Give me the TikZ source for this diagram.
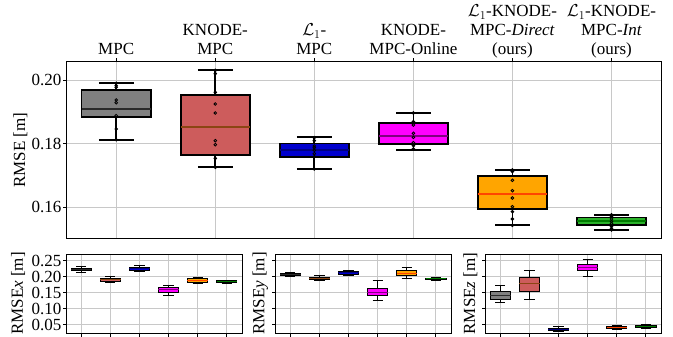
\documentclass[tikz,border=0pt]{standalone}
\usepackage{fontspec}
\setmainfont{Liberation Serif}
\definecolor{intgreen}{HTML}{2AB22A}
\definecolor{gridgray}{HTML}{C8C8C8}
\definecolor{indianred}{HTML}{CD5C5C}
\definecolor{saddle}{HTML}{8B4513}
\definecolor{medblue}{HTML}{0000CD}
\definecolor{navyblue}{HTML}{000080}
\definecolor{magentaf}{HTML}{FF00FF}
\definecolor{purplem}{HTML}{800080}
\definecolor{orangef}{HTML}{FFA500}
\definecolor{orangered}{HTML}{FF4500}
\definecolor{darkgreenm}{HTML}{007A00}
\definecolor{boxgray}{HTML}{808080}
\definecolor{medgray}{HTML}{2A2A2A}
% one box-and-whisker glyph: x, half width, whisker top, box top, median, box bottom, whisker bottom, fill, median colour
\newcommand\bxp[9]{%
  \draw[boxw] (#1,#3) -- (#1,#4) (#1,#6) -- (#1,#7);
  \draw[boxw] ({#1-#2/2},#3) -- ({#1+#2/2},#3) ({#1-#2/2},#7) -- ({#1+#2/2},#7);
  \filldraw[boxw, fill=#8] ({#1-#2},#4) rectangle ({#1+#2},#6);
  \draw[boxw, draw=#9] ({#1-#2},#5) -- ({#1+#2},#5);
}
% individual run results drawn as small rings
\newcommand\runs[2]{\foreach \yy in {#2} {\draw[pt] (#1,\yy) circle[radius=1.35pt];}}
\begin{document}
\begin{tikzpicture}[x=1pt,y=-1pt,
  font=\fontsize{17}{18.7}\selectfont,
  gridl/.style={draw=gridgray, line width=0.9pt},
  frame/.style={draw=black, line width=1pt},
  tickm/.style={draw=black, line width=0.8pt},
  pt/.style={draw=black, line width=0.8pt},
  ticklab/.style={anchor=base east, inner sep=0pt},
  ylab/.style={rotate=90, anchor=base, inner sep=0pt},
  xlab/.style={anchor=base, inner sep=0pt}]
\useasboundingbox (0,0) rectangle (673,337);

% ---------------- main panel ----------------
\foreach \x in {116.2,215.3,314.3,413.4,512.4,611.5}
  {\draw[gridl] (\x,62) -- (\x,238.3); \draw[tickm] (\x,58.5) -- (\x,62);}
\foreach \y/\l in {80/0.20,143.7/0.18,207/0.16}
  {\draw[gridl] (66.7,\y) -- (661,\y); \draw[tickm] (63.2,\y) -- (66.7,\y);
   \node[ticklab] at (61.5,\y+5.7) {\l};}

\begin{scope}[boxw/.style={line width=1.8pt}]
  \bxp{116.2}{34.7}{83.3}{90}{109}{117.3}{139.7}{boxgray}{medgray}
  \bxp{215.3}{34.7}{70.3}{95}{126.7}{155}{167.3}{indianred}{saddle}
  \bxp{314.3}{34.7}{137.3}{143.5}{149.8}{156.7}{169}{medblue}{navyblue}
  \bxp{413.4}{34.7}{113}{123}{135.7}{144}{149.7}{magentaf}{purplem}
  \bxp{512.4}{34.7}{170}{175.7}{194.3}{209.3}{225.3}{orangef}{orangered}
  \bxp{611.5}{34.7}{214.7}{217.5}{221.3}{225}{230}{intgreen}{darkgreenm}
\end{scope}
\runs{116.2}{83.3,85.7,87.3,100,102.7,115.7,129,139.7}
\runs{215.3}{70.3,73.7,92.3,104,113,140.7,144.7,158.3,167.3}
\runs{314.3}{137.7,140.7,146,147.7,150.3,153.7,156.7,169}
\runs{413.4}{113,121.7,125,133.3,137.3,142.7,145.7,149}
\runs{512.4}{170,171.5,180.3,190.7,198,206.7,211.7,219,225.3}
\runs{611.5}{214.7,216.5,219,221.5,223.5,226.5,228.5,230}

\draw[frame] (66.7,62) rectangle (661,238.3);

\node[xlab] (lmpc) at (116.2,54.3) {MPC};
\node[xlab] (lknode) at (215.3,54.3) {\begin{tabular}[b]{@{}c@{}}KNODE-\\MPC\end{tabular}};
\node[xlab] (ll1) at (314.3,54.3) {\begin{tabular}[b]{@{}c@{}}$\mathcal{L}_1$-\\MPC\end{tabular}};
\node[xlab] (lonline) at (413.4,54.3) {\begin{tabular}[b]{@{}c@{}}KNODE-\\MPC-Online\end{tabular}};
\node[xlab] (ldirect) at (512.4,54.3) {\begin{tabular}[b]{@{}c@{}}$\mathcal{L}_1$-KNODE-\\MPC-\textit{Direct}\\(ours)\end{tabular}};
\node[xlab] (lint) at (611.5,54.3) {\begin{tabular}[b]{@{}c@{}}$\mathcal{L}_1$-KNODE-\\MPC-\textit{Int}\\(ours)\end{tabular}};
\node[ylab] (ymain) at (25,150) {RMSE [m]};

% ---------------- axis-wise panels ----------------
\foreach \L/\lab/\lx in {66.7/x/23, 275.7/y/264.3, 485.7/z/475} {
  \foreach \i in {0,...,5} {
    \draw[gridl] (\L+14.55+29.1*\i,254) -- (\L+14.55+29.1*\i,333.3);
    \draw[tickm] (\L+14.55+29.1*\i,333.3) -- (\L+14.55+29.1*\i,336.8);
  }
  \foreach \y in {260.3,276.3,292.3,308.3,324.3}
    {\draw[gridl] (\L,\y) -- (\L+175.3,\y); \draw[tickm] (\L-3.5,\y) -- (\L,\y);}
  \node[ylab] at (\lx,293.5) {RMSE\textit{\lab} [m]};
}
\foreach \y/\l in {260.3/0.25,276.3/0.20,292.3/0.15,308.3/0.10,324.3/0.05}
  \node[ticklab] at (61.5,\y+5.7) {\l};

\begin{scope}[boxw/.style={line width=0.9pt}]
  % x
  \bxp{81.2}{10.2}{266.7}{268.3}{269.5}{270.7}{272}{boxgray}{medgray}
  \bxp{110.3}{10.2}{276.7}{278}{279.5}{281.7}{282.7}{indianred}{saddle}
  \bxp{139.4}{10.2}{265.7}{267.3}{268.5}{270}{271.7}{medblue}{navyblue}
  \bxp{168.5}{10.2}{285.7}{287.7}{289.7}{292}{295}{magentaf}{purplem}
  \bxp{197.6}{10.2}{277}{278.3}{280.3}{282}{283}{orangef}{orangered}
  \bxp{226.7}{10.2}{280}{280.7}{281.7}{282.7}{283.3}{intgreen}{darkgreenm}
  % y
  \bxp{290.3}{10.2}{272}{273}{274.3}{275.7}{276.7}{boxgray}{medgray}
  \bxp{319.4}{10.2}{275.7}{277}{278.3}{279.3}{280}{indianred}{saddle}
  \bxp{348.5}{10.2}{270.3}{271.3}{272.7}{274.3}{275}{medblue}{navyblue}
  \bxp{377.6}{10.2}{280}{288.3}{292}{295.3}{300.7}{magentaf}{purplem}
  \bxp{406.7}{10.2}{267.3}{270}{273}{275.7}{278}{orangef}{orangered}
  \bxp{435.8}{10.2}{277.3}{278}{278.7}{279.7}{280}{intgreen}{darkgreenm}
  % z
  \bxp{500.3}{10.2}{285.7}{291.3}{295.7}{299.3}{302.3}{boxgray}{medgray}
  \bxp{529.4}{10.2}{270.3}{277.3}{283.3}{291.3}{299.3}{indianred}{saddle}
  \bxp{558.5}{10.2}{326.7}{328}{329.3}{330.7}{331.3}{medblue}{navyblue}
  \bxp{587.6}{10.2}{259.3}{264.7}{267.3}{270}{276.3}{magentaf}{purplem}
  \bxp{616.7}{10.2}{325}{326}{327.2}{328.3}{329.3}{orangef}{orangered}
  \bxp{645.8}{10.2}{324}{325}{326.3}{327.7}{328.7}{intgreen}{darkgreenm}
\end{scope}

\foreach \L in {66.7,275.7,485.7}
  \draw[frame] (\L,254) rectangle (\L+175.3,333.3);
\end{tikzpicture}
\end{document}
